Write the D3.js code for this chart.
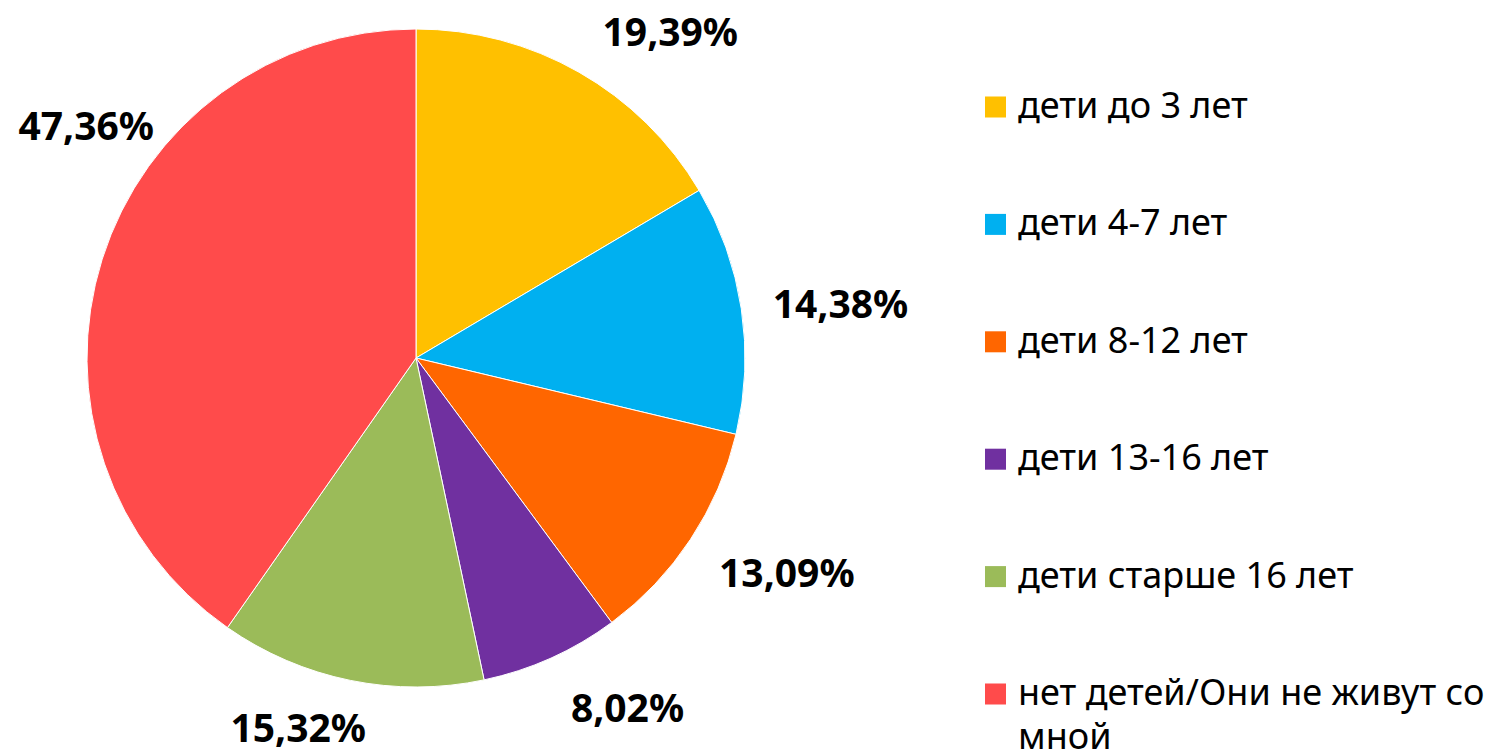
<!DOCTYPE html>
<html>
<head>
<meta charset="utf-8">
<script src="https://cdn.jsdelivr.net/npm/d3@7"></script>
<style>
  body { margin: 0; background: #fff; }
  svg { display: block; }
</style>
</head>
<body>
<script>
var categories = ['дети до 3 лет', 'дети 4-7 лет', 'дети 8-12 лет', 'дети 13-16 лет', 'дети старше 16 лет', 'нет детей/Они не живут со мной'];
var values = [19.39, 14.38, 13.09, 8.02, 15.32, 47.36];
var colors = ['#FFC000', '#00B0F0', '#FF6600', '#7030A0', '#9BBB59', '#FF4B4B'];

// label placement (angle shift from slice middle in degrees, distance from centre)
var labelShift = [8.1, 1.2, -3.5, -7.0, 6.2, 17.8];
var labelDist = [415, 428, 428, 408, 387, 404];

var width = 1491, height = 754;
var cx = 416, cy = 358, r = 329;

var svg = d3.select('body').append('svg')
    .attr('width', width)
    .attr('height', height);

var pie = d3.pie().sort(null).value(function(d) { return d; });
var arcs = pie(values);

var arc = d3.arc().innerRadius(0).outerRadius(r);

var g = svg.append('g').attr('transform', 'translate(' + cx + ',' + cy + ')');

g.selectAll('path')
    .data(arcs)
    .enter().append('path')
        .attr('d', arc)
        .attr('fill', function(d, i) { return colors[i]; })
        .attr('stroke', '#fff')
        .attr('stroke-width', 1);

function fmt(v) { return v.toFixed(2).replace('.', ',') + '%'; }

g.selectAll('text.lbl')
    .data(arcs)
    .enter().append('text')
        .attr('class', 'lbl')
        .attr('x', function(d, i) {
            var a = (d.startAngle + d.endAngle) / 2 + labelShift[i] * Math.PI / 180;
            return Math.sin(a) * labelDist[i];
        })
        .attr('y', function(d, i) {
            var a = (d.startAngle + d.endAngle) / 2 + labelShift[i] * Math.PI / 180;
            return -Math.cos(a) * labelDist[i];
        })
        .attr('text-anchor', 'middle')
        .attr('dominant-baseline', 'central')
        .style('font-family', 'Noto Sans, sans-serif')
        .style('font-weight', 'bold')
        .style('font-size', '39px')
        .style('fill', '#000')
        .text(function(d) { return fmt(d.data); });

// legend
var ly = d3.scaleLinear().domain([0, categories.length - 1]).range([107, 694]);

var leg = svg.append('g');

var items = leg.selectAll('g')
    .data(categories)
    .enter().append('g')
        .attr('transform', function(d, i) { return 'translate(985,' + ly(i) + ')'; });

items.append('rect')
    .attr('x', 0)
    .attr('y', -10.5)
    .attr('width', 21)
    .attr('height', 21)
    .attr('fill', function(d, i) { return colors[i]; });

items.append('text')
    .attr('x', 33)
    .attr('y', 11)
    .style('font-family', 'Noto Sans, sans-serif')
    .style('font-size', '36px')
    .style('fill', '#000')
    .each(function(d) {
        var t = d3.select(this);
        var parts = d.length > 26 ? [d.slice(0, d.lastIndexOf(' ')), d.slice(d.lastIndexOf(' ') + 1)] : [d];
        parts.forEach(function(p, k) {
            t.append('tspan').attr('x', 33).attr('dy', k === 0 ? 0 : 44).text(p);
        });
    });
</script>
</body>
</html>
